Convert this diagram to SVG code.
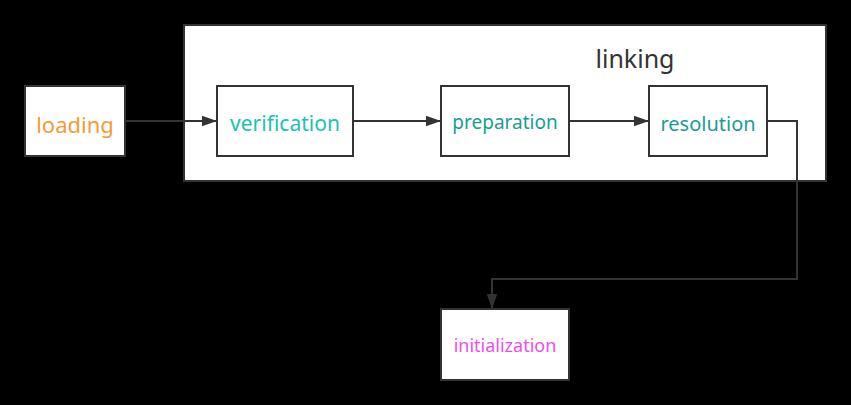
<svg xmlns="http://www.w3.org/2000/svg" width="851" height="405" viewBox="0 0 851 405">
<defs>
<style>
.box{fill:#fff;stroke:#333;stroke-width:2}
.lbl{font-family:"Noto Sans","Open Sans","Liberation Sans",sans-serif;text-anchor:middle;dominant-baseline:central}
.edge{fill:none;stroke:#333;stroke-width:2}
</style>
<marker id="arrw" viewBox="0 0 10 10" refX="10" refY="5" markerWidth="15" markerHeight="15" markerUnits="userSpaceOnUse" orient="auto">
<path d="M0,1.5 L10,5 L0,8.5 z" fill="#333"/>
</marker>
</defs>
<rect width="851" height="405" fill="#000"/>
<g id="linking">
<rect class="box" x="184" y="25" width="642" height="156"/>
<text class="lbl" x="635" y="58" font-size="25" fill="#333">linking</text>
</g>
<g id="loading">
<rect class="box" x="25" y="86" width="100" height="70"/>
<text class="lbl" x="75" y="124" font-size="22" fill="#F19C38">loading</text>
</g>
<g id="verification">
<rect class="box" x="217" y="86" width="136" height="70"/>
<text class="lbl" x="285" y="123" font-size="21" fill="#19C3B0">verification</text>
</g>
<g id="preparation">
<rect class="box" x="441" y="86" width="128" height="70"/>
<text class="lbl" x="505" y="122" font-size="19" fill="#1A9C94">preparation</text>
</g>
<g id="resolution">
<rect class="box" x="649" y="86" width="118" height="70"/>
<text class="lbl" x="708" y="123" font-size="20" fill="#1A9C94">resolution</text>
</g>
<g id="initialization">
<rect class="box" x="441" y="309" width="128" height="71"/>
<text class="lbl" x="505" y="345" font-size="18" fill="#EE4DEE">initialization</text>
</g>
<g id="connectors">
<path class="edge" d="M125,121 H217" marker-end="url(#arrw)"/>
<path class="edge" d="M353,121 H441" marker-end="url(#arrw)"/>
<path class="edge" d="M569,121 H649" marker-end="url(#arrw)"/>
<path class="edge" d="M767,121 H797 V279 H492 V309" marker-end="url(#arrw)"/>
</g>
</svg>
